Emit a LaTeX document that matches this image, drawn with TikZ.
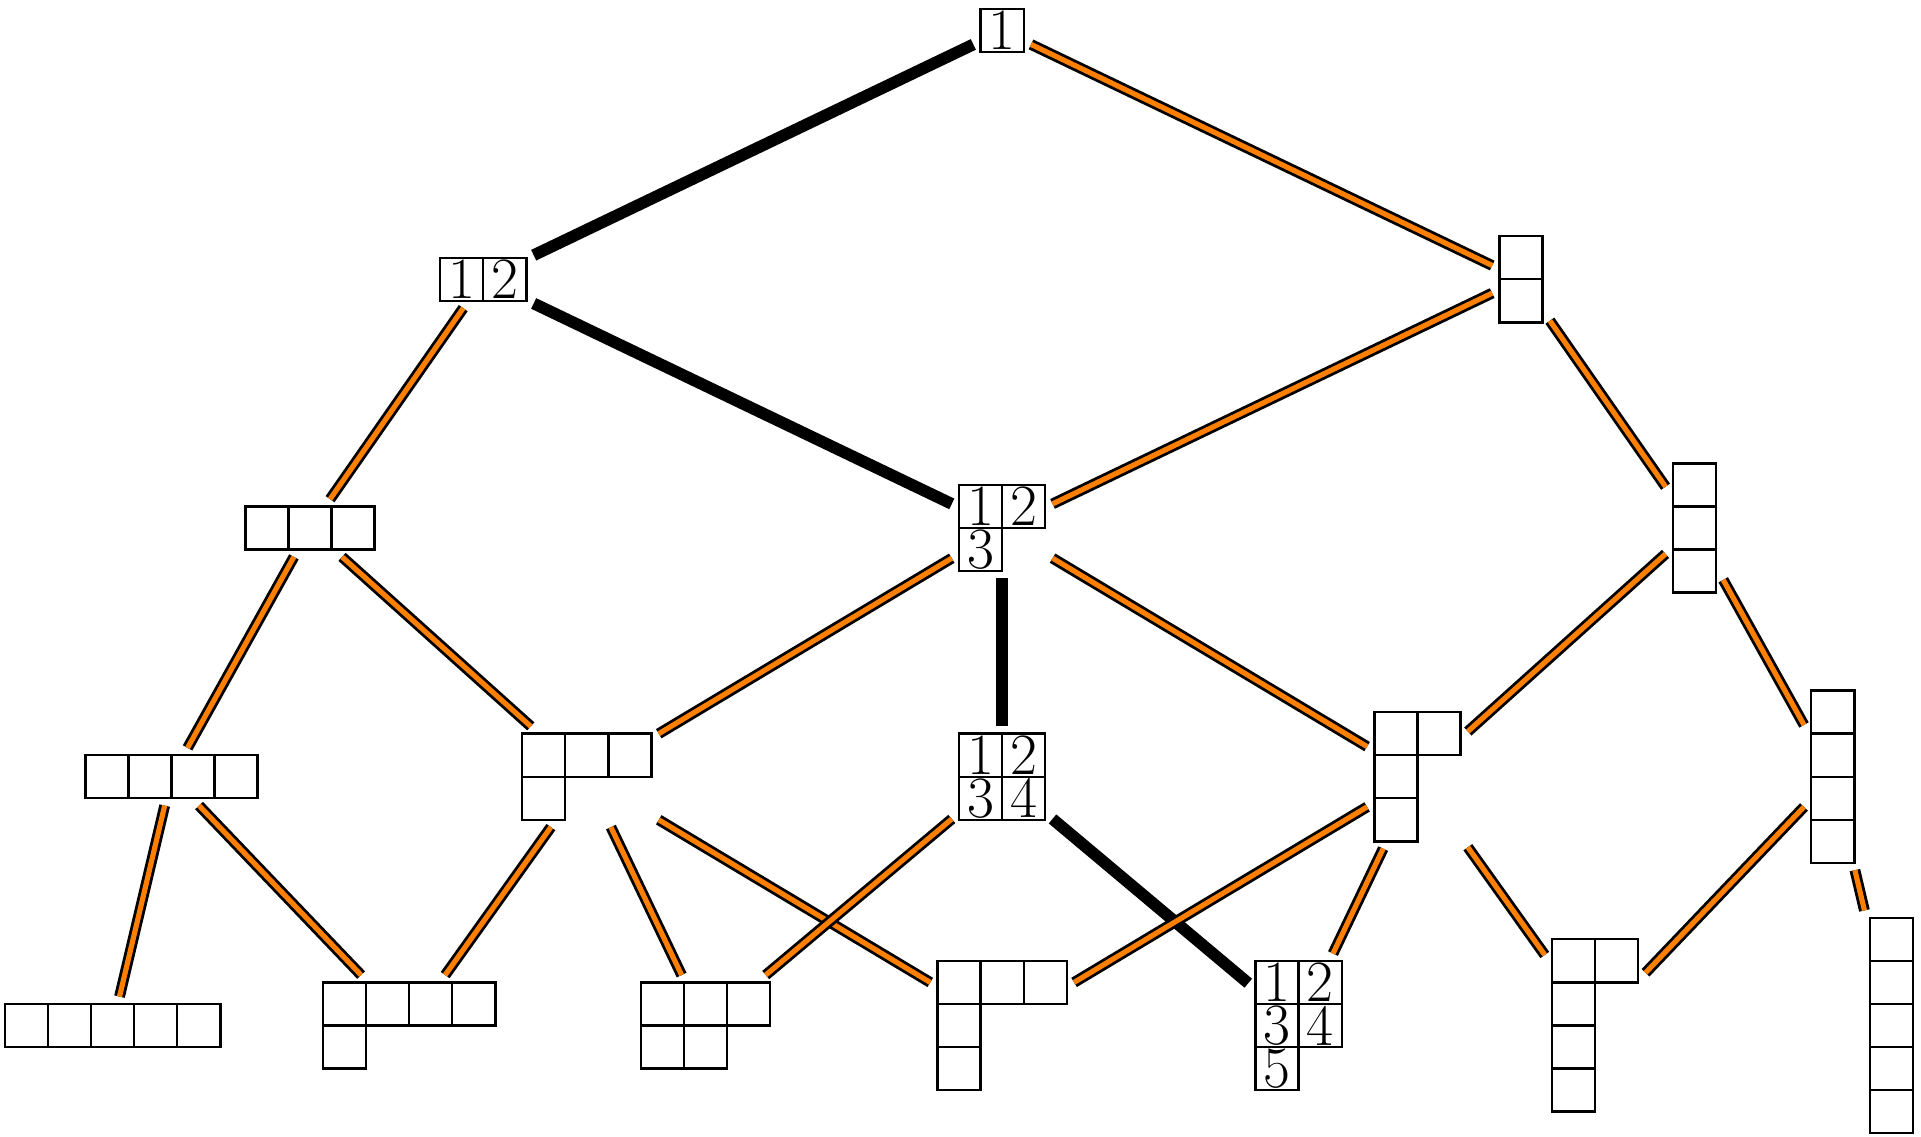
\documentclass[tikz,border=0pt]{standalone}

\newcommand{\cel}[1]{\node[cell]{#1};}

\begin{document}
\begin{tikzpicture}[
    x=0.0183cm, y=-0.0183cm,
    cell/.style={draw=black, line width=1pt, minimum size=18.3pt, inner sep=0pt, outer sep=0pt, font=\Huge},
    tab/.style={inner sep=0pt, outer sep=2.6pt, column sep=-1pt, row sep=-1pt},
    chain/.style={draw=black, line width=5pt},
    cover/.style={draw=black, line width=1.2pt, double=orange, double distance=2.2pt}
]
    \useasboundingbox (0,0) rectangle (1568,928);

    % ranks 1--3
    \matrix[tab] (t1) at (818,25) {\cel{1}\\};
    \matrix[tab] (t2) at (394.5,228) {\cel{1} & \cel{2}\\};
    \matrix[tab] (t11) at (1241.5,228) {\cel{}\\ \cel{}\\};
    \matrix[tab] (t3) at (253,431) {\cel{} & \cel{} & \cel{}\\};
    \matrix[tab] (t21) at (818,431) {\cel{1} & \cel{2}\\ \cel{3} & \\};
    \matrix[tab] (t111) at (1383,431) {\cel{}\\ \cel{}\\ \cel{}\\};

    % rank 4
    \matrix[tab] (t4) at (140,634) {\cel{} & \cel{} & \cel{} & \cel{}\\};
    \matrix[tab] (t31) at (479,634) {\cel{} & \cel{} & \cel{}\\ \cel{} & & \\};
    \matrix[tab] (t22) at (818,634) {\cel{1} & \cel{2}\\ \cel{3} & \cel{4}\\};
    \matrix[tab] (t211) at (1157,634) {\cel{} & \cel{}\\ \cel{} & \\ \cel{} & \\};
    \matrix[tab] (t1111) at (1496,634) {\cel{}\\ \cel{}\\ \cel{}\\ \cel{}\\};

    % rank 5
    \matrix[tab] (t5) at (92,837) {\cel{} & \cel{} & \cel{} & \cel{} & \cel{}\\};
    \matrix[tab] (t41) at (334,837) {\cel{} & \cel{} & \cel{} & \cel{}\\ \cel{} & & & \\};
    \matrix[tab] (t32) at (576,837) {\cel{} & \cel{} & \cel{}\\ \cel{} & \cel{} & \\};
    \matrix[tab] (t311) at (818,837) {\cel{} & \cel{} & \cel{}\\ \cel{} & & \\ \cel{} & & \\};
    \matrix[tab] (t221) at (1060,837) {\cel{1} & \cel{2}\\ \cel{3} & \cel{4}\\ \cel{5} & \\};
    \matrix[tab] (t2111) at (1302,837) {\cel{} & \cel{}\\ \cel{} & \\ \cel{} & \\ \cel{} & \\};
    \matrix[tab] (t11111) at (1544,837) {\cel{}\\ \cel{}\\ \cel{}\\ \cel{}\\ \cel{}\\};

    % the chain
    \draw[chain] (t1) -- (t2);
    \draw[chain] (t2) -- (t21);
    \draw[chain] (t21) -- (t22);
    \draw[chain] (t22) -- (t221);

    % other covers
    \draw[cover] (t1) -- (t11);
    \draw[cover] (t2) -- (t3);
    \draw[cover] (t11) -- (t21);
    \draw[cover] (t11) -- (t111);
    \draw[cover] (t3) -- (t4);
    \draw[cover] (t3) -- (t31);
    \draw[cover] (t21) -- (t31);
    \draw[cover] (t21) -- (t211);
    \draw[cover] (t111) -- (t211);
    \draw[cover] (t111) -- (t1111);
    \draw[cover] (t4) -- (t5);
    \draw[cover] (t4) -- (t41);
    \draw[cover] (t31) -- (t41);
    \draw[cover] (t31) -- (t32);
    \draw[cover] (t31) -- (t311);
    \draw[cover] (t22) -- (t32);
    \draw[cover] (t211) -- (t311);
    \draw[cover] (t211) -- (t221);
    \draw[cover] (t211) -- (t2111);
    \draw[cover] (t1111) -- (t2111);
    \draw[cover] (t1111) -- (t11111);
\end{tikzpicture}
\end{document}
